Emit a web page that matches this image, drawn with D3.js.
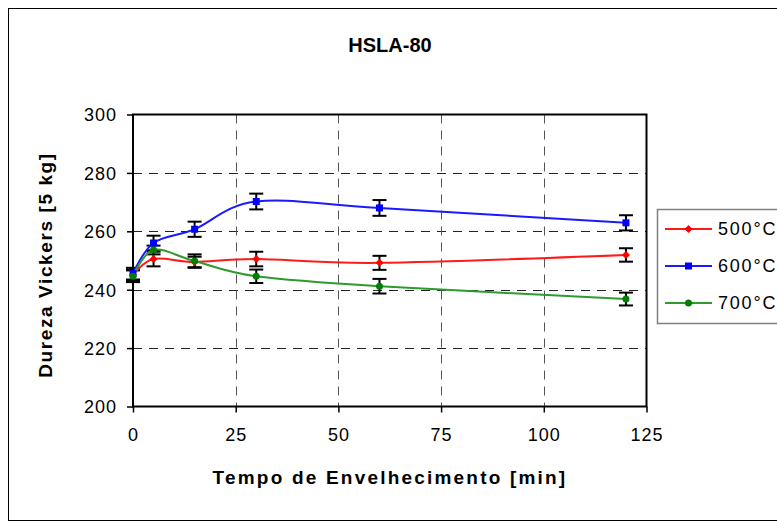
<!DOCTYPE html>
<html><head><meta charset="utf-8">
<script src="https://cdn.jsdelivr.net/npm/d3@7"></script>
<style>body{margin:0;background:#fff}svg{display:block}text{font-family:"Liberation Sans",Arial,sans-serif}</style>
</head><body><svg id="c" width="777" height="529"></svg>
<script>
const times = [0, 5, 15, 30, 60, 120];
const seriesNames = ["500°C", "600°C", "700°C"];
const hv500 = [245, 250.5, 249.5, 250.5, 249.2, 251.9];
const hv600 = [245.5, 256, 260.7, 270.2, 268, 262.9];
const hv700 = [244.6, 253.6, 249.8, 244.6, 241.2, 236.8];
const err500 = [2, 2.5, 1.8, 2.5, 2.4, 2.3];
const err600 = [2, 2.5, 2.6, 2.7, 2.7, 2.6];
const err700 = [2, 1.5, 2.3, 2.3, 2.5, 2.2];
const xTicks = [0, 25, 50, 75, 100, 125];
const yTicks = [200, 220, 240, 260, 280, 300];
const title = "HSLA-80";
const xTitle = "Tempo de Envelhecimento [min]";
const yTitle = "Dureza Vickers [5 kg]";

const series = [
  {name: seriesNames[0], v: hv500, e: err500, color: "#ff0000", line: "#ff1a1a", shape: "diamond"},
  {name: seriesNames[1], v: hv600, e: err600, color: "#0000ff", line: "#1a1aff", shape: "square"},
  {name: seriesNames[2], v: hv700, e: err700, color: "#008000", line: "#2f9a2f", shape: "circle"}
];

const svg = d3.select("#c");
const L = 133, R = 646.5, T = 114.5, B = 406.5;
const x = d3.scaleLinear().domain([0, 125]).range([L, R]);
const y = d3.scaleLinear().domain([200, 300]).range([B, T]);

// outer frame
svg.append("rect").attr("x", 8.5).attr("y", 8.5).attr("width", 820).attr("height", 512)
  .attr("fill", "none").attr("stroke", "#000").attr("stroke-width", 1);

// grid
const g = svg.append("g");
g.selectAll(".hg").data(yTicks.filter(d => d > 200 && d < 300)).enter().append("line")
  .attr("x1", L).attr("x2", R).attr("y1", d => Math.round(y(d)) + 0.5).attr("y2", d => Math.round(y(d)) + 0.5)
  .attr("stroke", "#222").attr("stroke-dasharray", "9,7");
g.selectAll(".vg").data(xTicks.filter(d => d > 0 && d < 125)).enter().append("line")
  .attr("y1", T).attr("y2", B).attr("x1", d => Math.round(x(d)) + 0.5).attr("x2", d => Math.round(x(d)) + 0.5)
  .attr("stroke", "#555").attr("stroke-dasharray", "9,7");

// plot border
svg.append("rect").attr("x", L).attr("y", T).attr("width", R - L).attr("height", B - T)
  .attr("fill", "none").attr("stroke", "#000").attr("stroke-width", 2);

// axes
const fmt = d3.format("d");
const xAxis = svg.append("g").attr("transform", `translate(0,${B})`)
  .call(d3.axisBottom(x).tickValues(xTicks).tickSize(6).tickPadding(16).tickFormat(fmt));
const yAxis = svg.append("g").attr("transform", `translate(${L},0)`)
  .call(d3.axisLeft(y).tickValues(yTicks).tickSize(6).tickPadding(10).tickFormat(fmt));
[xAxis, yAxis].forEach(a => {
  a.select(".domain").remove();
  a.selectAll(".tick line").attr("stroke", "#000").attr("stroke-width", 1.5);
  a.selectAll("text").attr("font-size", 18).attr("fill", "#000").attr("letter-spacing", 1)
    .attr("font-family", '"Liberation Sans",Arial,sans-serif');
});
yAxis.selectAll("text").attr("dy", "0.36em");

// error bars
series.forEach(s => {
  const eg = svg.append("g").attr("stroke", "#000").attr("stroke-width", 2);
  times.forEach((t, i) => {
    const cx = x(t), y1 = y(s.v[i] + s.e[i]), y2 = y(s.v[i] - s.e[i]);
    eg.append("line").attr("x1", cx).attr("x2", cx).attr("y1", y1).attr("y2", y2);
    eg.append("line").attr("x1", cx - 7).attr("x2", cx + 7).attr("y1", y1).attr("y2", y1);
    eg.append("line").attr("x1", cx - 7).attr("x2", cx + 7).attr("y1", y2).attr("y2", y2);
  });
});

// lines
const line = d3.line().x((d, i) => x(times[i])).y(d => y(d)).curve(d3.curveCardinal.tension(0));
series.forEach(s => {
  svg.append("path").attr("d", line(s.v)).attr("fill", "none").attr("stroke", s.line).attr("stroke-width", 2);
});

function marker(sel, s, cx, cy) {
  if (s.shape === "square") sel.append("rect").attr("x", cx - 3.5).attr("y", cy - 3.5).attr("width", 7).attr("height", 7).attr("fill", s.color);
  else if (s.shape === "circle") sel.append("circle").attr("cx", cx).attr("cy", cy).attr("r", 3.5).attr("fill", s.color);
  else sel.append("path").attr("d", `M${cx},${cy-4}L${cx+4},${cy}L${cx},${cy+4}L${cx-4},${cy}Z`).attr("fill", s.color);
}
series.forEach(s => {
  const mg = svg.append("g");
  times.forEach((t, i) => marker(mg, s, x(t), y(s.v[i])));
});

// titles
svg.append("text").attr("x", 390).attr("y", 52).attr("text-anchor", "middle")
  .attr("font-size", 20).attr("font-weight", "bold").text(title);
svg.append("text").attr("x", 390).attr("y", 484).attr("text-anchor", "middle")
  .attr("font-size", 19).attr("font-weight", "bold").attr("letter-spacing", 2.2).text(xTitle);
svg.append("text").attr("transform", "translate(52,265) rotate(-90)").attr("text-anchor", "middle")
  .attr("font-size", 19).attr("font-weight", "bold").attr("letter-spacing", 1.6).text(yTitle);

// legend
const lg = svg.append("g");
lg.append("rect").attr("x", 657.5).attr("y", 209.5).attr("width", 200).attr("height", 114)
  .attr("fill", "#fff").attr("stroke", "#808080").attr("stroke-width", 1.5);
series.forEach((s, i) => {
  const ly = 229 + i * 37;
  lg.append("line").attr("x1", 665).attr("x2", 712).attr("y1", ly).attr("y2", ly).attr("stroke", s.line).attr("stroke-width", 2);
  marker(lg, s, 688.5, ly);
  lg.append("text").attr("x", 718).attr("y", ly).attr("dy", "0.36em").attr("font-size", 18)
    .attr("letter-spacing", 1.8).text(s.name);
});
</script></body></html>
